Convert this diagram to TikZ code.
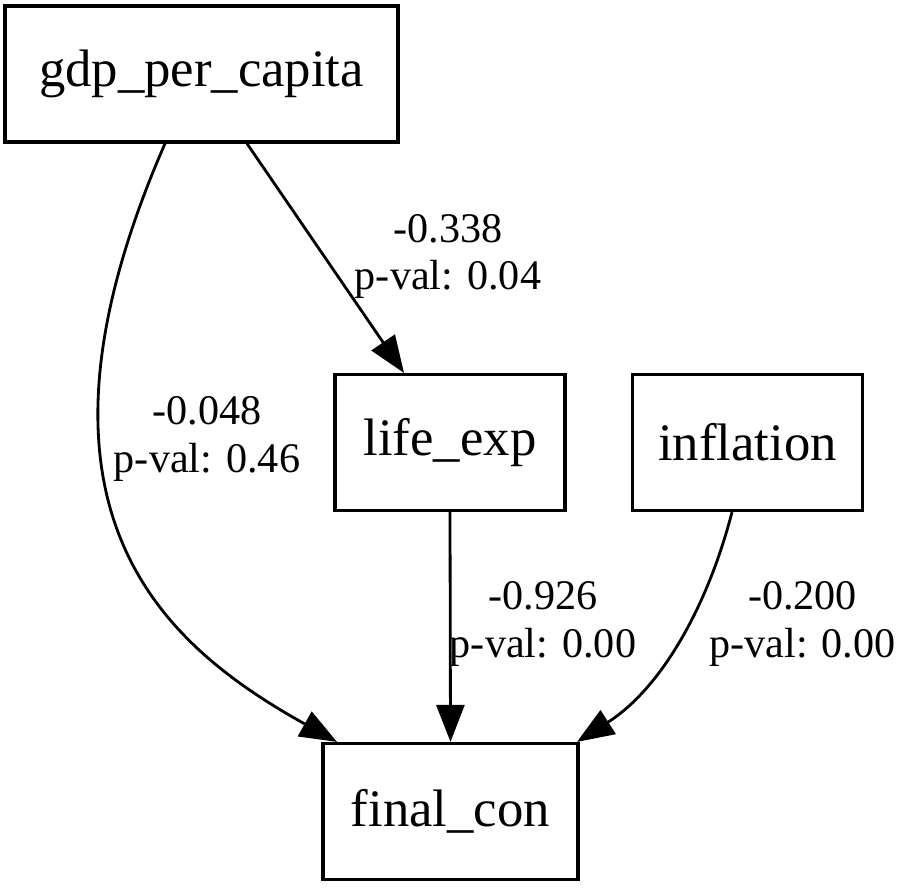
\documentclass[tikz,border=0pt]{standalone}
\usepackage{fontspec}
\setmainfont{Liberation Serif}
\usetikzlibrary{arrows.meta}

\begin{document}
\begin{tikzpicture}[
		var/.style={draw, line width=1.8pt, inner sep=0pt, minimum height=2.72cm, font=\fontsize{30}{36}\selectfont},
		path/.style={line width=1.6pt, -{Triangle[length=0.74cm, width=0.56cm]}},
		coef/.style={align=center, inner sep=0pt, font=\fontsize{24}{27}\selectfont}]
		\useasboundingbox (0,0) rectangle (18,17.78);
		\node[var, minimum width=7.86cm] (gdp) at (4.03,16.3) {gdp\_per\_capita};
		\node[var, minimum width=4.6cm] (life) at (9.0,8.93) {life\_exp};
		\node[var, minimum width=4.6cm] (infl) at (14.95,8.93) {inflation};
		\node[var, minimum width=5.1cm] (final) at (9.01,1.55) {final\_con};
		\node[coef] (c338) at (8.96,12.65) {-0.338\\p-val: 0.04};
		\node[coef] (c048) at (4.14,9.0) {-0.048\\p-val: 0.46};
		\node[coef] (c926) at (10.86,5.3) {-0.926\\p-val: 0.00};
		\node[coef] (c200) at (16.05,5.3) {-0.200\\p-val: 0.00};
		\draw[path] ([xshift=0.91cm]gdp.south) -- ([xshift=-0.92cm]life.north);
		\draw[path] ([xshift=-0.73cm]gdp.south) .. controls (0.10,7.58) and (3.26,4.88) .. ([xshift=-2.27cm]final.north);
		\draw[path] (life.south) -- (final.north);
		\draw[path] ([xshift=-0.31cm]infl.south) .. controls (14.15,5.64) and (13.22,4.01) .. ([xshift=2.53cm]final.north);
\end{tikzpicture}
\end{document}
